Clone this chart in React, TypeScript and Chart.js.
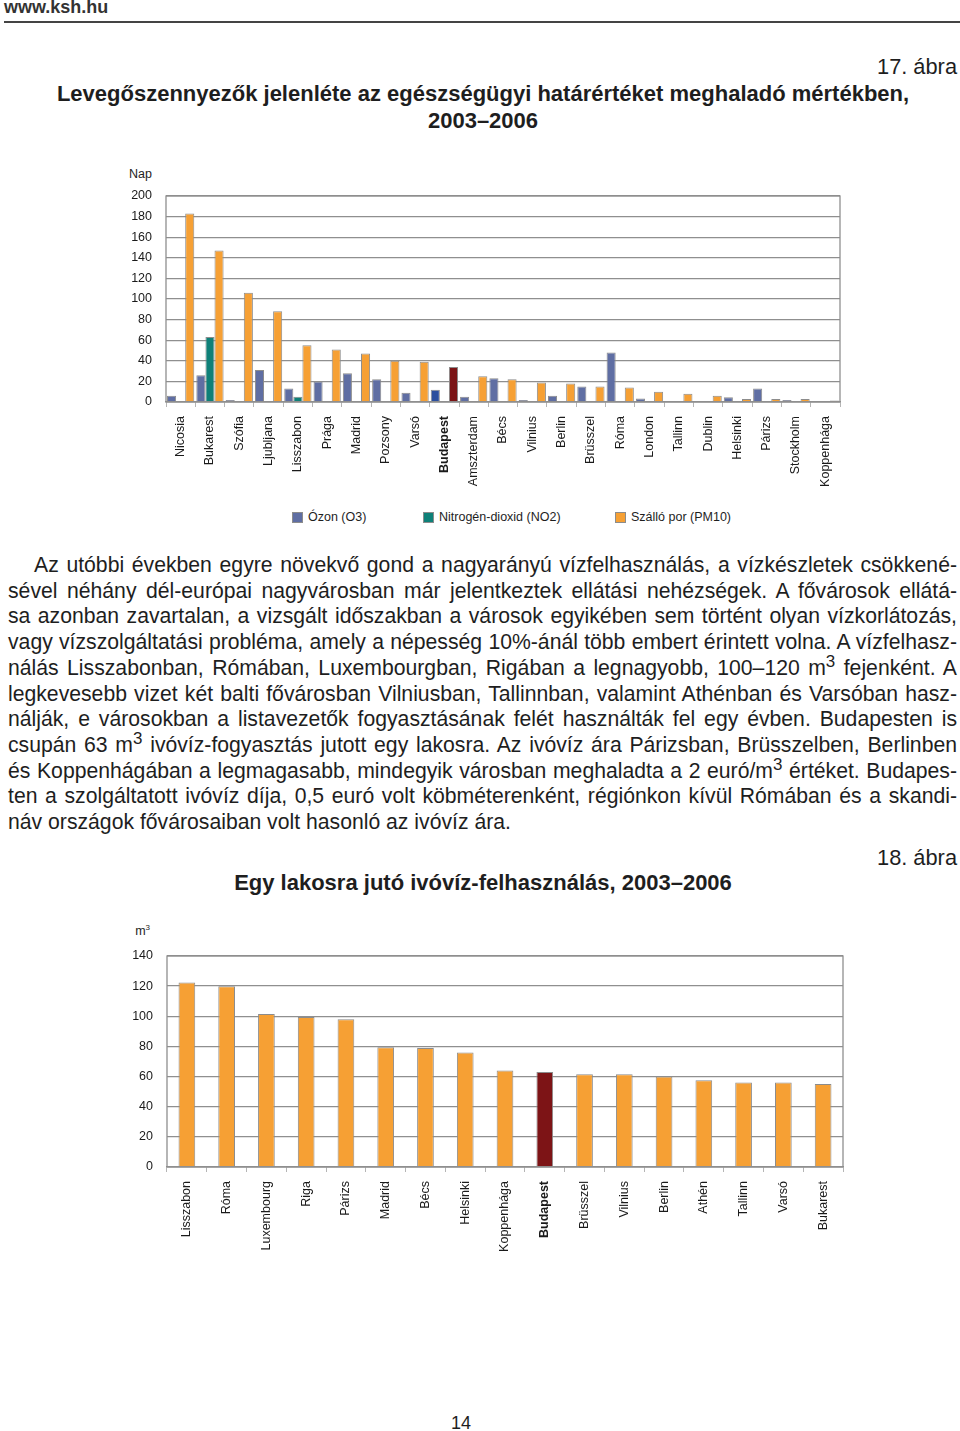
import React, { useEffect, useRef } from "react";
import { Chart, registerables } from "chart.js";

Chart.register(...registerables);

// ---------- Chart 1 data (17. ábra) ----------
const cities1 = ["Nicosia", "Bukarest", "Szófia", "Ljubljana", "Lisszabon", "Prága", "Madrid", "Pozsony", "Varsó", "Budapest", "Amszterdam", "Bécs", "Vilnius", "Berlin", "Brüsszel", "Róma", "London", "Tallinn", "Dublin", "Helsinki", "Párizs", "Stockholm", "Koppenhága"];
const ozone = [6, 26, 2, 31, 13, 20, 28, 22, 9, 12, 5, 23, 2, 6, 15, 48, 3.5, 0, 0, 4.5, 13, 2, 0];
const no2 = [0, 63, 0, 0, 5, 0, 0, 0, 0, 0, 0, 0, 0, 0, 0, 0, 0, 0, 0, 0, 0, 0, 0];
const pm10 = [183, 147, 106, 88, 55, 51, 47, 40, 39, 34, 25, 22, 19, 18, 15, 14, 10, 8, 6, 3, 3, 3, 1.5];
const seriesNames1 = ["Ózon (O3)", "Nitrogén-dioxid (NO2)", "Szálló por (PM10)"];
const seriesColors1 = ["#5f6ea3", "#0e8078", "#f6a034"];
const budapestColors1 = ["#2c4f9e", "#0e8078", "#7b1416"];
const yTicks1 = { min: 0, max: 200, step: 20 };

// ---------- Chart 2 data (18. ábra) ----------
const cities2 = ["Lisszabon", "Róma", "Luxembourg", "Riga", "Párizs", "Madrid", "Bécs", "Helsinki", "Koppenhága", "Budapest", "Brüsszel", "Vilnius", "Berlin", "Athén", "Tallinn", "Varsó", "Bukarest"];
const water = [122.5, 120, 101.5, 99.5, 98, 79.5, 79, 76, 64, 63, 61.5, 61.5, 60, 57.5, 56, 56, 55];
const waterColor = "#f6a034";
const waterBudapestColor = "#7d1416";
const yTicks2 = { min: 0, max: 140, step: 20 };

const HIGHLIGHT = "Budapest";
const FONT = "'Liberation Sans', Arial, sans-serif";

const paragraphLines = [
  ["Az utóbbi években egyre növekvő gond a nagyarányú vízfelhasználás, a vízkészletek csökkené-"],
  ["sével néhány dél-európai nagyvárosban már jelentkeztek ellátási nehézségek. A fővárosok ellátá-"],
  ["sa azonban zavartalan, a vizsgált időszakban a városok egyikében sem történt olyan vízkorlátozás,"],
  ["vagy vízszolgáltatási probléma, amely a népesség 10%-ánál több embert érintett volna. A vízfelhasz-"],
  ["nálás Lisszabonban, Rómában, Luxembourgban, Rigában a legnagyobb, 100–120 m", "3", " fejenként. A"],
  ["legkevesebb vizet két balti fővárosban Vilniusban, Tallinnban, valamint Athénban és Varsóban hasz-"],
  ["nálják, e városokban a listavezetők fogyasztásának felét használták fel egy évben. Budapesten is"],
  ["csupán 63 m", "3", " ivóvíz-fogyasztás jutott egy lakosra. Az ivóvíz ára Párizsban, Brüsszelben, Berlinben"],
  ["és Koppenhágában a legmagasabb, mindegyik városban meghaladta a 2 euró/m", "3", " értéket. Budapes-"],
  ["ten a szolgáltatott ivóvíz díja, 0,5 euró volt köbméterenként, régiónkon kívül Rómában és a skandi-"],
  ["náv országok fővárosaiban volt hasonló az ivóvíz ára."],
];

const borderPlugin = {
  id: "plotBorder",
  afterDatasetsDraw(chart: any) {
    const { ctx, chartArea } = chart;
    ctx.save();
    ctx.strokeStyle = "#8f8f8f";
    ctx.lineWidth = 1.3;
    ctx.strokeRect(chartArea.left, chartArea.top, chartArea.right - chartArea.left, chartArea.bottom - chartArea.top);
    ctx.restore();
  },
};

function makeScales(labels: string[], yt: { min: number; max: number; step: number }, yWidth: number, xHeight: number) {
  return {
    x: {
      grid: { offset: true, drawOnChartArea: false, drawTicks: true, tickLength: 5, color: "#b5b5b5" },
      border: { color: "#8f8f8f", width: 1.3 },
      ticks: {
        minRotation: 90,
        maxRotation: 90,
        autoSkip: false,
        padding: 9,
        color: "#1a1a1a",
        font: (c: any) => ({
          family: FONT,
          size: 12.5,
          weight: labels[c.index] === HIGHLIGHT ? "bold" : "normal",
        }),
      },
      afterFit: (s: any) => { s.height = xHeight; },
    },
    y: {
      min: yt.min,
      max: yt.max,
      grid: { color: "#8f8f8f", lineWidth: 1.3, drawTicks: false },
      border: { display: false },
      ticks: { stepSize: yt.step, padding: 14, color: "#1a1a1a", font: { family: FONT, size: 12.5 } },
      afterFit: (s: any) => { s.width = yWidth; },
    },
  };
}

function AirChart() {
  const ref = useRef<HTMLCanvasElement>(null);
  useEffect(() => {
    const seriesData = [ozone, no2, pm10];
    const chart = new Chart(ref.current!, {
      type: "bar",
      data: {
        labels: cities1,
        datasets: seriesData.map((d, i) => ({
          label: seriesNames1[i],
          data: d,
          backgroundColor: cities1.map((c) => (c === HIGHLIGHT ? budapestColors1[i] : seriesColors1[i])),
          borderColor: "#8c8c8c",
          borderWidth: 1,
          categoryPercentage: 0.93,
          barPercentage: 1,
        })),
      },
      options: {
        animation: false,
        responsive: false,
        maintainAspectRatio: false,
        layout: { padding: { top: 26, right: 20, left: 0, bottom: 0 } },
        plugins: { legend: { display: false }, tooltip: { enabled: false } },
        scales: makeScales(cities1, yTicks1, 66, 98) as any,
      },
      plugins: [borderPlugin],
    });
    return () => chart.destroy();
  }, []);
  return <canvas ref={ref} width={760} height={330} style={{ position: "absolute", left: 100, top: 170, width: 760, height: 330 }} />;
}

function WaterChart() {
  const ref = useRef<HTMLCanvasElement>(null);
  useEffect(() => {
    const chart = new Chart(ref.current!, {
      type: "bar",
      data: {
        labels: cities2,
        datasets: [
          {
            label: "m3",
            data: water,
            backgroundColor: cities2.map((c) => (c === HIGHLIGHT ? waterBudapestColor : waterColor)),
            borderColor: "#8c8c8c",
            borderWidth: 1,
            categoryPercentage: 1,
            barPercentage: 0.42,
          },
        ],
      },
      options: {
        animation: false,
        responsive: false,
        maintainAspectRatio: false,
        layout: { padding: { top: 26, right: 17, left: 0, bottom: 0 } },
        plugins: { legend: { display: false }, tooltip: { enabled: false } },
        scales: makeScales(cities2, yTicks2, 67, 93) as any,
      },
      plugins: [borderPlugin],
    });
    return () => chart.destroy();
  }, []);
  return <canvas ref={ref} width={760} height={330} style={{ position: "absolute", left: 100, top: 930, width: 760, height: 330 }} />;
}

export default function App() {
  const abs = (s: React.CSSProperties): React.CSSProperties => ({ position: "absolute", ...s });
  const legendX = [292, 423, 615];
  return (
    <div style={{ position: "absolute", left: 0, top: 0, width: 960, height: 1431, overflow: "hidden", background: "#fff", fontFamily: FONT, color: "#1e1e1e" }}>
      <div style={abs({ left: 4, top: -3, fontSize: 18, fontWeight: "bold", color: "#333" })}>www.ksh.hu</div>
      <div style={abs({ left: 4, top: 21, width: 956, height: 2, background: "#444" })} />

      <div style={abs({ right: 3, top: 54, fontSize: 21.8 })}>17. ábra</div>
      <div style={abs({ left: 0, width: 966, top: 79.5, textAlign: "center", fontSize: 22, fontWeight: "bold", lineHeight: "27px" })}>
        Levegőszennyezők jelenléte az egészségügyi határértéket meghaladó mértékben,<br />2003–2006
      </div>

      <div style={abs({ left: 100, width: 52, top: 167, textAlign: "right", fontSize: 12.5 })}>Nap</div>
      <AirChart />

      {seriesNames1.map((n, i) => (
        <div key={n} style={abs({ left: legendX[i], top: 510, fontSize: 12.5, display: "flex", alignItems: "center", whiteSpace: "nowrap" })}>
          <span style={{ display: "inline-block", width: 9, height: 9, background: seriesColors1[i], border: "1px solid #8c8c8c", marginRight: 5 }} />
          {n}
        </div>
      ))}

      <div style={abs({ left: 8, width: 949, top: 552, fontSize: 21.2, lineHeight: "25.7px", color: "#1e1e1e" })}>
        {paragraphLines.map((parts, i) => {
          const last = i === paragraphLines.length - 1;
          return (
            <div key={i} style={{ textAlign: last ? "left" : "justify", textAlignLast: last ? "left" : "justify", paddingLeft: i === 0 ? 26 : 0, whiteSpace: "nowrap" } as any}>
              {parts.map((p, j) => (j % 2 === 1 ? <sup key={j} style={{ fontSize: "0.8em", lineHeight: 0 }}>{p}</sup> : <span key={j}>{p}</span>))}
            </div>
          );
        })}
      </div>

      <div style={abs({ right: 3, top: 845, fontSize: 21.8 })}>18. ábra</div>
      <div style={abs({ left: 0, width: 966, top: 870, textAlign: "center", fontSize: 22, fontWeight: "bold" })}>
        Egy lakosra jutó ivóvíz-felhasználás, 2003–2006
      </div>

      <div style={abs({ left: 100, width: 50, top: 924, textAlign: "right", fontSize: 12.5 })}>
        m<sup style={{ fontSize: 8, lineHeight: 0 }}>3</sup>
      </div>
      <WaterChart />

      <div style={abs({ left: 0, width: 922, top: 1413, textAlign: "center", fontSize: 18 })}>14</div>
    </div>
  );
}
